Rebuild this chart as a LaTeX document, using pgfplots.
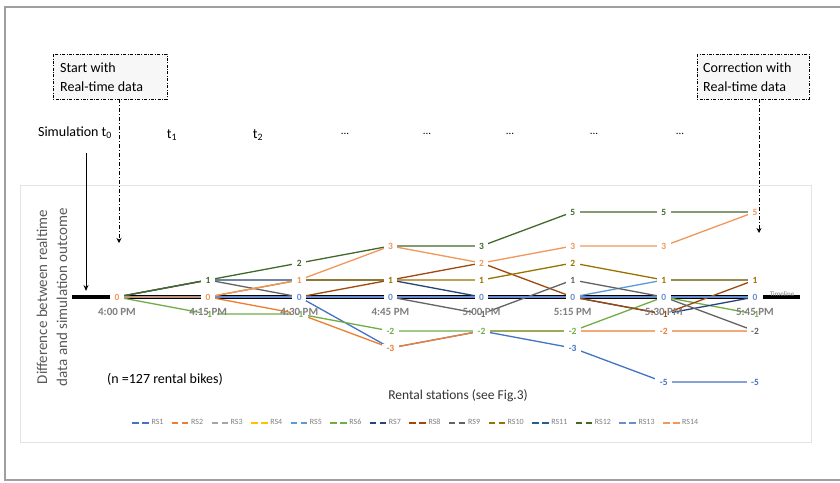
\documentclass[border=0pt]{standalone}
\usepackage{pgfplots}
\pgfplotsset{compat=1.18}
\usepackage{pgfplotstable}
\usepackage{fontspec}
\setmainfont{Carlito}
\usetikzlibrary{arrows.meta}

\definecolor{c1}{HTML}{4472C4}
\definecolor{c2}{HTML}{ED7D31}
\definecolor{c3}{HTML}{A5A5A5}
\definecolor{c4}{HTML}{FFC000}
\definecolor{c5}{HTML}{5B9BD5}
\definecolor{c6}{HTML}{70AD47}
\definecolor{c7}{HTML}{264478}
\definecolor{c8}{HTML}{9E480E}
\definecolor{c9}{HTML}{636363}
\definecolor{c10}{HTML}{997300}
\definecolor{c11}{HTML}{255E91}
\definecolor{c12}{HTML}{43682B}
\definecolor{c13}{HTML}{698ED0}
\definecolor{c14}{HTML}{F1975A}
\definecolor{tickgray}{HTML}{7F7F7F}
\definecolor{labgray}{HTML}{595959}

\pgfplotstableread{
x RS1 RS2 RS3 RS4 RS5 RS6 RS7 RS8 RS9 RS10 RS11 RS12 RS13 RS14
0 0 0 0 0 0 0 0 0 0 0 0 0 0 0
1 0 0 0 0 0 -1 1 0 1 0 0 1 0 0
2 0 -1 0 0 0 -1 1 0 0 1 0 2 0 1
3 -3 -3 0 0 0 -2 1 1 0 1 0 3 0 3
4 -2 -2 0 0 0 -2 0 2 -1 1 0 3 0 2
5 -3 -2 0 0 0 -2 0 0 1 2 0 5 0 3
6 -5 -2 0 0 1 0 -1 -1 0 1 0 5 0 3
7 -5 -2 0 0 1 -1 0 1 -2 1 0 5 0 5
}\data

\pgfplotsset{
  rs/.style={color=#1, line width=1.3pt, mark=none},
  lab/.style={draw=none, forget plot, mark=none, nodes near coords, point meta=y,
    nodes near coords style={anchor=center, fill=white, inner xsep=4.5pt, inner ysep=1pt, text=#1,
      font=\bfseries\fontsize{9.5}{9.5}\selectfont}},
  frame/.style={
    at={(117pt,-297pt)}, anchor=origin,
    scale only axis, width=729.1pt, height=204pt,
    xmin=-0.5, xmax=7.5, ymin=-6, ymax=6,
    axis x line=middle, axis y line=none,
    x axis line style={draw=none},
    hide obscured x ticks=false,
    major tick length=0pt,
    xtick={0,...,7}, ytick=\empty,
    clip=false,
  },
}

\begin{document}
\begin{tikzpicture}
\path[use as bounding box] (0pt,0pt) rectangle (840pt,-482pt);
\draw[color=gray!75, line width=1.2pt] (845pt,-7pt) -- (5pt,-7pt) -- (5pt,-480pt) -- (845pt,-480pt);
\draw[color=gray!22, line width=0.8pt, fill=white] (20pt,-185pt) rectangle (811pt,-442pt);

\begin{axis}[
  frame,
  xticklabels=\empty,
  /pgf/number format/assume math mode=true,
  legend style={draw=none, fill=none, at={(axis description cs:0.4726,-0.1176)}, anchor=center,
    font=\fontsize{8}{8}\selectfont, text=tickgray,
    /tikz/every even column/.append style={column sep=5.8pt}},
  legend columns=14,
  legend image code/.code={\draw[#1, line width=1.3pt, dash pattern=on 6.5pt off 3.5pt] (0pt,0pt) -- (16.5pt,0pt);},
]
\addplot[black, line width=3.5pt, forget plot] coordinates {(0,0) (7,0)};
\addplot[rs=c1] table[x=x,y=RS1]{\data};
\addplot[rs=c2] table[x=x,y=RS2]{\data};
\addplot[rs=c3] table[x=x,y=RS3]{\data};
\addplot[rs=c4] table[x=x,y=RS4]{\data};
\addplot[rs=c5] table[x=x,y=RS5]{\data};
\addplot[rs=c6] table[x=x,y=RS6]{\data};
\addplot[rs=c7] table[x=x,y=RS7]{\data};
\addplot[rs=c8] table[x=x,y=RS8]{\data};
\addplot[rs=c9] table[x=x,y=RS9]{\data};
\addplot[rs=c10] table[x=x,y=RS10]{\data};
\addplot[rs=c11] table[x=x,y=RS11]{\data};
\addplot[rs=c12] table[x=x,y=RS12]{\data};
\addplot[rs=c13] table[x=x,y=RS13]{\data};
\addplot[rs=c14] table[x=x,y=RS14]{\data};
\legend{RS1,RS2,RS3,RS4,RS5,RS6,RS7,RS8,RS9,RS10,RS11,RS12,RS13,RS14}
\addplot[lab=c1] table[x=x,y=RS1]{\data};
\addplot[lab=c2] table[x=x,y=RS2]{\data};
\addplot[lab=c3] table[x=x,y=RS3]{\data};
\addplot[lab=c4] table[x=x,y=RS4]{\data};
\addplot[lab=c5] table[x=x,y=RS5]{\data};
\addplot[lab=c6] table[x=x,y=RS6]{\data};
\addplot[lab=c7] table[x=x,y=RS7]{\data};
\addplot[lab=c8] table[x=x,y=RS8]{\data};
\addplot[lab=c9] table[x=x,y=RS9]{\data};
\addplot[lab=c10] table[x=x,y=RS10]{\data};
\addplot[lab=c11] table[x=x,y=RS11]{\data};
\addplot[lab=c12] table[x=x,y=RS12]{\data};
\addplot[lab=c13] table[x=x,y=RS13]{\data};
\addplot[lab=c14] table[x=x,y=RS14]{\data};
\end{axis}

% overlay axis carrying only the time tick labels, drawn above the data labels
\begin{axis}[
  frame,
  xticklabels={4:00 PM,4:15 PM,4:30 PM,4:45 PM,5:00 PM,5:15 PM,5:30 PM,5:45 PM},
  xticklabel style={font=\bfseries\fontsize{11}{11}\selectfont, text=tickgray, yshift=-7.5pt},
]
\end{axis}

% annotation boxes
\draw[line width=0.8pt, dash pattern=on 3pt off 1.5pt on 0.8pt off 1.5pt, fill=gray!6] (53pt,-54pt) rectangle (167pt,-99pt);
\node[anchor=west, align=left, font=\fontsize{14}{19}\selectfont, inner sep=0pt] at (60pt,-77.5pt) {Start with\\Real-time data};
\draw[line width=0.8pt, dash pattern=on 3pt off 1.5pt on 0.8pt off 1.5pt, fill=gray!6] (697pt,-54pt) rectangle (809pt,-99pt);
\node[anchor=west, align=left, font=\fontsize{14}{19}\selectfont, inner sep=0pt] at (703pt,-77.5pt) {Correction with\\Real-time data};

\draw[line width=1pt, dash pattern=on 4pt off 2pt on 1pt off 2pt, -{Stealth[length=5pt,width=5pt]}] (119pt,-99pt) -- (119pt,-243pt);
\draw[line width=1pt, dash pattern=on 4pt off 2pt on 1pt off 2pt, -{Stealth[length=5pt,width=5pt]}] (759pt,-99pt) -- (759pt,-233pt);
\draw[line width=1pt, -{Stealth[length=6pt,width=5pt]}] (86pt,-153pt) -- (86pt,-291pt);

\node[font=\fontsize{14}{14}\selectfont] at (75pt,-133pt) {Simulation t\textsubscript{0}};
\node[font=\fontsize{14}{14}\selectfont] at (172pt,-135pt) {t\textsubscript{1}};
\node[font=\fontsize{14}{14}\selectfont] at (258pt,-135pt) {t\textsubscript{2}};
\foreach \xx in {345,427,510,594,680} {\node[font=\fontsize{11}{11}\selectfont] at (\xx pt,-134pt) {...};}

\draw[line width=4.5pt] (72pt,-297pt) -- (110pt,-297pt);
\draw[line width=4.5pt] (763pt,-297pt) -- (800pt,-297pt);
\node[font=\fontsize{7}{7}\selectfont, text=tickgray] at (782pt,-294pt) {Timeline};

\node[rotate=90, align=center, font=\fontsize{15}{20}\selectfont, text=labgray] at (52pt,-297pt) {Difference between realtime\\data and simulation outcome};
\node[font=\fontsize{14}{14}\selectfont] at (165pt,-379pt) {(n =127 rental bikes)};
\node[font=\fontsize{13.5}{14}\selectfont, text=black!80] at (458pt,-396pt) {Rental stations (see Fig.3)};
\end{tikzpicture}
\end{document}
